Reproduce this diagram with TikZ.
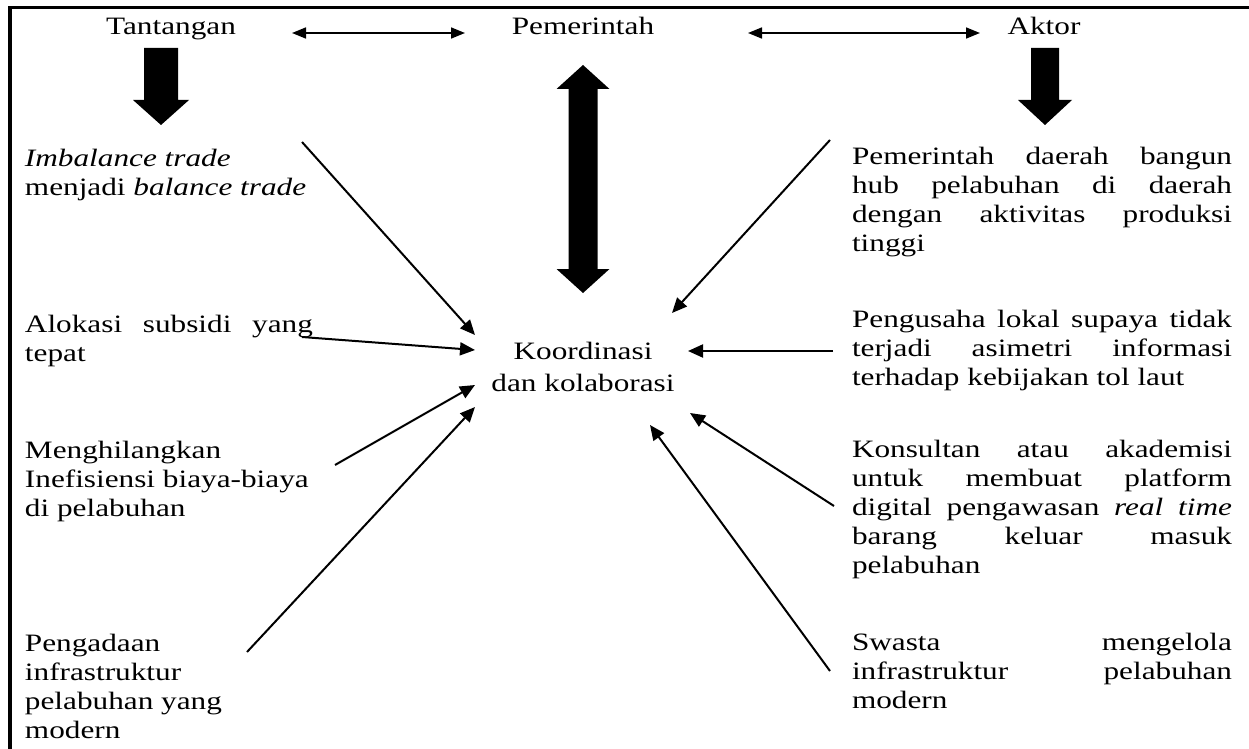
\documentclass[tikz,border=0pt]{standalone}
\usepackage{fontspec}
\setmainfont{Liberation Serif}[FakeStretch=1.25]
\usetikzlibrary{arrows.meta}
\newcommand\jl[2]{\makebox[#1][s]{#2}}
\begin{document}
\begin{tikzpicture}[x=0.5pt,y=-0.5pt,
  txt/.style={inner sep=0pt, outer sep=0pt, font=\fontsize{12.5pt}{14.5pt}\selectfont, align=left},
  head/.style={inner sep=0pt, outer sep=0pt, font=\fontsize{12.5pt}{14.5pt}\selectfont, anchor=base},
  conn/.style={line width=1pt, -{Triangle[length=7.5pt,width=6.5pt]}},
  dbl/.style={line width=0.8pt, {Triangle[length=7pt,width=5.5pt]}-{Triangle[length=7pt,width=5.5pt]}},
  blockarrow/.style={fill=black, draw=none},
  frame/.style={line width=1.6pt}]
\useasboundingbox (0,0) rectangle (1249,749);

% frame
\draw[frame] (10,749) -- (10,7.5) -- (1249,7.5);

% top labels
\node[head] (tan) at (171,35) {Tantangan};
\node[head] (pem) at (583,35) {Pemerintah};
\node[head] (akt) at (1044,35) {Aktor};

\coordinate (h1a) at (292,33);
\coordinate (h1b) at (465,33);
\coordinate (h2a) at (748,33);
\coordinate (h2b) at (980,33);
\draw[dbl] (h1a) -- (h1b);
\draw[dbl] (h2a) -- (h2b);

% block arrows
\fill[blockarrow] (144,48) -- (178,48) -- (178,100) -- (189,100) -- (161,125) -- (133,100) -- (144,100) -- cycle;
\fill[blockarrow] (1031,48) -- (1059,48) -- (1059,100) -- (1072,100) -- (1045,125) -- (1018,100) -- (1031,100) -- cycle;
\fill[blockarrow] (583,65) -- (609.5,89) -- (597.5,89) -- (597.5,269) -- (609.5,269) -- (583,293) -- (556.5,269) -- (568.5,269) -- (568.5,89) -- (556.5,89) -- cycle;

% centre
\node[txt, align=center, anchor=north, font=\fontsize{12.5pt}{16pt}\selectfont] (kor) at (583,342) {Koordinasi\\dan kolaborasi};

% left column
\node[txt, anchor=north west] (imb) at (25,149) {\textit{Imbalance trade}\\menjadi \textit{balance trade}};
\node[txt, anchor=north west] (alo) at (25,315) {\jl{144pt}{Alokasi subsidi yang}\\tepat};
\node[txt, anchor=north west] (men) at (25,441) {Menghilangkan\\Inefisiensi biaya-biaya\\di pelabuhan};
\node[txt, anchor=north west] (pen) at (25,634) {Pengadaan\\infrastruktur\\pelabuhan yang\\modern};

% right column
\node[txt, anchor=north west] (pda) at (852,147) {\jl{190pt}{Pemerintah daerah bangun}\\\jl{190pt}{hub pelabuhan di daerah}\\\jl{190pt}{dengan aktivitas produksi}\\tinggi};
\node[txt, anchor=north west] (pus) at (852,310) {\jl{190pt}{Pengusaha lokal supaya tidak}\\\jl{190pt}{terjadi asimetri informasi}\\terhadap kebijakan tol laut};
\node[txt, anchor=north west] (kon) at (852,440) {\jl{190pt}{Konsultan atau akademisi}\\\jl{190pt}{untuk membuat platform}\\\jl{190pt}{digital pengawasan \textit{real time}}\\\jl{190pt}{barang keluar masuk}\\pelabuhan};
\node[txt, anchor=north west] (swa) at (852,633) {\jl{190pt}{Swasta mengelola}\\\jl{190pt}{infrastruktur pelabuhan}\\modern};

% connectors
\coordinate (s1) at (302,142); \coordinate (t1) at (475,335);
\coordinate (s2) at (302,337); \coordinate (t2) at (475,350);
\coordinate (s3) at (335,465); \coordinate (t3) at (475,385);
\coordinate (s4) at (247,652); \coordinate (t4) at (475,407);
\coordinate (s5) at (830,140); \coordinate (t5) at (672,313);
\coordinate (s6) at (833,351); \coordinate (t6) at (688,351);
\coordinate (s7) at (834,506); \coordinate (t7) at (690,413);
\coordinate (s8) at (830,671); \coordinate (t8) at (650,425);
\foreach \i in {1,...,8} {\draw[conn] (s\i) -- (t\i);}
\end{tikzpicture}
\end{document}
